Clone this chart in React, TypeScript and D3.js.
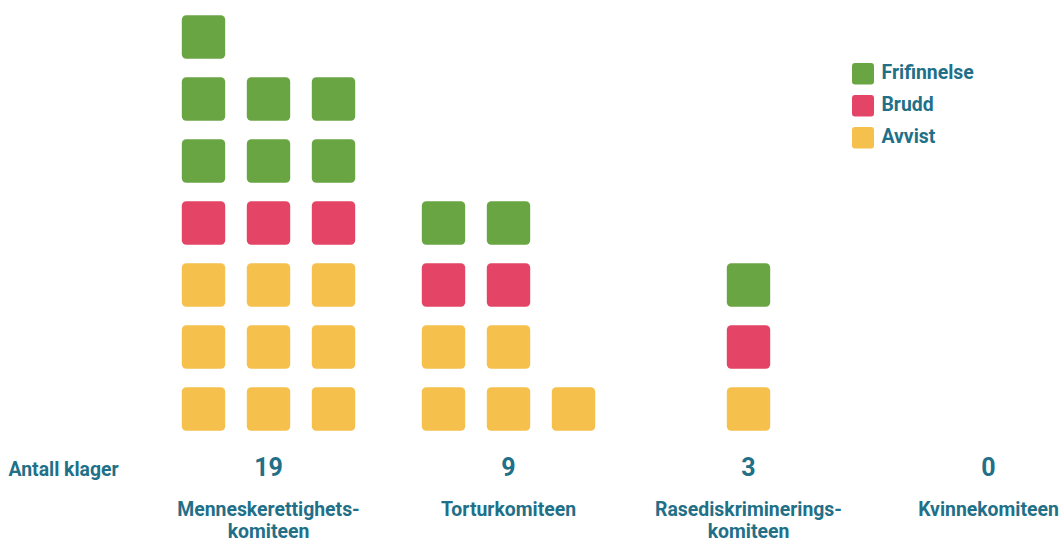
import React from "react";
import * as d3 from "d3";

const categories = ["Menneskerettighets-\nkomiteen", "Torturkomiteen", "Rasediskriminerings-\nkomiteen", "Kvinnekomiteen"];
const avvist = [9, 5, 1, 0];
const brudd = [3, 2, 1, 0];
const frifinnelse = [7, 2, 1, 0];
const seriesNames = ["Avvist", "Brudd", "Frifinnelse"];
const seriesColors = ["#f5c04c", "#e44465", "#6aa543"];
const rowLabel = "Antall klager";

const W = 1060;
const H = 539;
const TEXT = "#226f88";
const FONT = "Roboto, 'Noto Sans', sans-serif";
const FS = 19.4;

export default function App() {
  const series = [avvist, brudd, frifinnelse];
  const x = d3.scaleBand<number>().domain(d3.range(categories.length)).range([148.5, 1108.5]);
  const colStep = 65;
  const sq = 43.4;
  const y = d3.scaleLinear().domain([0, 6]).range([387.3, 15.3]);

  const cells: { cx: number; y: number; color: string; key: string }[] = [];
  categories.forEach((_, ci) => {
    const counts = series.map((s) => s[ci]);
    const maxCount = d3.max(counts) ?? 0;
    const cols = Math.max(1, Math.min(3, maxCount));
    const center = (x(ci) ?? 0) + x.bandwidth() / 2;
    const left = center - ((cols - 1) * colStep) / 2;
    let row = 0;
    counts.forEach((n, si) => {
      for (let k = 0; k < n; k++) {
        const c = k % cols;
        const r = row + Math.floor(k / cols);
        cells.push({ cx: left + c * colStep, y: y(r), color: seriesColors[si], key: `${ci}-${si}-${k}` });
      }
      if (n > 0) row += Math.ceil(n / cols);
    });
  });

  const totals = categories.map((_, ci) => d3.sum(series, (s) => s[ci]));
  const legendOrder = [2, 1, 0];

  return (
    <div style={{ position: "absolute", left: 0, top: 0, width: W, height: H }}>
      <svg width={W} height={H} style={{ display: "block", fontFamily: FONT }}>
        {cells.map((d) => (
          <rect key={d.key} x={d.cx - sq / 2} y={d.y} width={sq} height={sq} rx={4.5} fill={d.color} />
        ))}
        {legendOrder.map((si, i) => (
          <g key={si} transform={`translate(852, ${63 + i * 32})`}>
            <rect width={22} height={21.5} rx={3} fill={seriesColors[si]} />
            <text x={29.5} y={16.2} fontSize={FS} fontWeight={700} fill={TEXT}>
              {seriesNames[si]}
            </text>
          </g>
        ))}
        <text x={8.5} y={476} fontSize={FS} fontWeight={700} fill={TEXT}>
          {rowLabel}
        </text>
        {totals.map((t, ci) => (
          <text key={ci} x={(x(ci) ?? 0) + x.bandwidth() / 2} y={476} textAnchor="middle" fontSize={25} fontWeight={700} fill={TEXT}>
            {t}
          </text>
        ))}
        {categories.map((c, ci) => (
          <text key={ci} textAnchor="middle" fontSize={FS} fontWeight={700} fill={TEXT}>
            {c.split("\n").map((line, li) => (
              <tspan key={li} x={(x(ci) ?? 0) + x.bandwidth() / 2} y={516 + li * 22}>
                {line}
              </tspan>
            ))}
          </text>
        ))}
      </svg>
    </div>
  );
}
